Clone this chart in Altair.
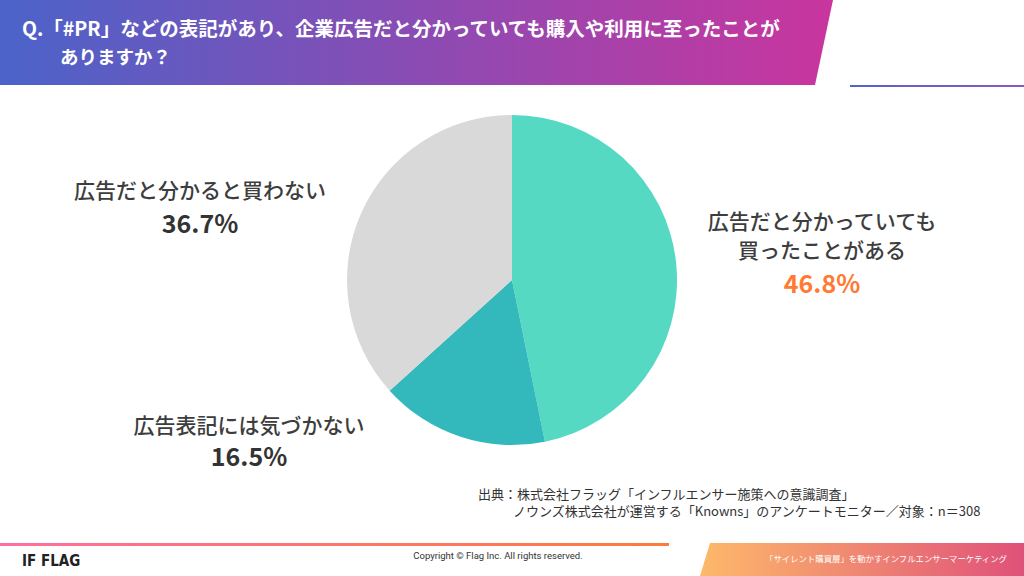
import altair as alt
import pandas as pd

# ---- data ----
categories = ["広告だと分かっていても買ったことがある", "広告表記には気づかない", "広告だと分かると買わない"]
display_labels = ["広告だと分かっていても\n買ったことがある", "広告表記には気づかない", "広告だと分かると買わない"]
values = [46.8, 16.5, 36.7]
slice_order = [1, 2, 3]
slice_colors = ["#56d9c2", "#33b8bb", "#d9d9d9"]

title_lines = ["Q.「#PR」などの表記があり、企業広告だと分かっていても購入や利用に至ったことが", "ありますか？"]
source_lines = ["出典：株式会社フラッグ「インフルエンサー施策への意識調査」",
                "ノウンズ株式会社が運営する「Knowns」のアンケートモニター／対象：n＝308"]
copyright_text = ["Copyright © Flag Inc. All rights reserved."]
logo_text = ["IF FLAG"]
tagline_text = ["「サイレント購買層」を動かすインフルエンサーマーケティング"]

df = pd.DataFrame({"category": categories, "label": display_labels,
                   "value": values, "order": slice_order})

JP = "Noto Sans CJK JP"

def grad(c1, c2):
    return alt.Gradient(gradient="linear",
                        stops=[alt.GradientStop(color=c1, offset=0),
                               alt.GradientStop(color=c2, offset=1)],
                        x1=0, x2=1, y1=0, y2=0)

xs = alt.Scale(domain=[0, 1024], nice=False, zero=False)
ys = alt.Scale(domain=[0, 576], nice=False, zero=False, reverse=True)

# ---- decorations ----
header_shape = pd.DataFrame({"x": [0, 815, 833], "y": [0, 0, 0], "y2": [85, 85, 0]})
header = alt.Chart(header_shape).mark_area(color=grad("#4b63c9", "#c9359e"), line=False).encode(
    x=alt.X("x:Q", scale=xs, axis=None), y=alt.Y("y:Q", scale=ys, axis=None), y2="y2:Q")

footer_shape = pd.DataFrame({"x": [700, 710, 1024], "y": [576, 543, 543], "y2": [576, 576, 576]})
footer_block = alt.Chart(footer_shape).mark_area(color=grad("#fdb96a", "#e0517a"), line=False).encode(
    x=alt.X("x:Q", scale=xs, axis=None), y=alt.Y("y:Q", scale=ys, axis=None), y2="y2:Q")

one = pd.DataFrame({"k": [0]})
header_line = alt.Chart(one).mark_rect(color=grad("#5563cb", "#8a58c4")).encode(
    x=alt.value(850), x2=alt.value(1024), y=alt.value(85), y2=alt.value(87))
footer_line = alt.Chart(one).mark_rect(color=grad("#ff6f9e", "#ff7a3a")).encode(
    x=alt.value(0), x2=alt.value(669), y=alt.value(543), y2=alt.value(546))

def text_layer(lst, x, y, **kw):
    d = pd.DataFrame({"t": lst})
    return alt.Chart(d).mark_text(**kw).encode(text="t:N", x=alt.value(x), y=alt.value(y))

title1 = text_layer([title_lines[0]], 22, 30, font=JP, fontSize=19.5, fontWeight="bold",
                    color="white", align="left", baseline="middle")
title2 = text_layer([title_lines[1]], 60, 58, font=JP, fontSize=18.5, fontWeight="bold",
                    color="white", align="left", baseline="middle")
src1 = text_layer([source_lines[0]], 478, 495, font=JP, fontSize=13, color="#333333",
                  align="left", baseline="middle")
src2 = text_layer([source_lines[1]], 513, 512, font=JP, fontSize=13, color="#333333",
                  align="left", baseline="middle")
copy_t = text_layer(copyright_text, 498, 556, font="Roboto", fontSize=9.5, color="#333333",
                    align="center", baseline="middle")
logo_t = text_layer(logo_text, 22, 561, font="DejaVu Sans Condensed, DejaVu Sans, sans-serif",
                    fontSize=15, fontWeight="bold", color="#222222", align="left", baseline="middle")
tag_t = text_layer(tagline_text, 886, 559, font=JP, fontSize=8.4, color="white",
                   align="center", baseline="middle")

# ---- pie ----
pie = alt.Chart(df).mark_arc(radius=165).encode(
    theta=alt.Theta("value:Q", stack=True),
    order=alt.Order("order:Q"),
    color=alt.Color("category:N", scale=alt.Scale(domain=categories, range=slice_colors), legend=None),
    x=alt.value(512), y=alt.value(280),
)

def label(cat, x, y_name, y_pct, pct_color):
    base = alt.Chart(df).transform_filter(alt.datum.category == cat).transform_calculate(
        pct="format(datum.value, '.1f') + '%'")
    name = base.mark_text(font=JP, fontSize=21, fontWeight=500, color="#3d3d3d",
                          lineBreak="\n", lineHeight=29, align="center", baseline="middle").encode(
        text="label:N", x=alt.value(x), y=alt.value(y_name))
    pct = base.mark_text(font=JP, fontSize=25, fontWeight="bold", color=pct_color,
                         align="center", baseline="middle").encode(
        text="pct:N", x=alt.value(x), y=alt.value(y_pct))
    return [name, pct]

labels = (label(categories[0], 822, 223, 285, "#ff7a33")
          + label(categories[2], 200, 192, 225, "#333333")
          + label(categories[1], 249, 427, 458, "#333333"))

chart = alt.layer(header, footer_block, header_line, footer_line, pie,
                  title1, title2, src1, src2, copy_t, logo_t, tag_t, *labels).properties(
    width=1024, height=576, padding=0, autosize="none", background="white"
).configure_view(stroke=None)

chart.save("out.html", embed_options={"renderer": "svg", "actions": False})
